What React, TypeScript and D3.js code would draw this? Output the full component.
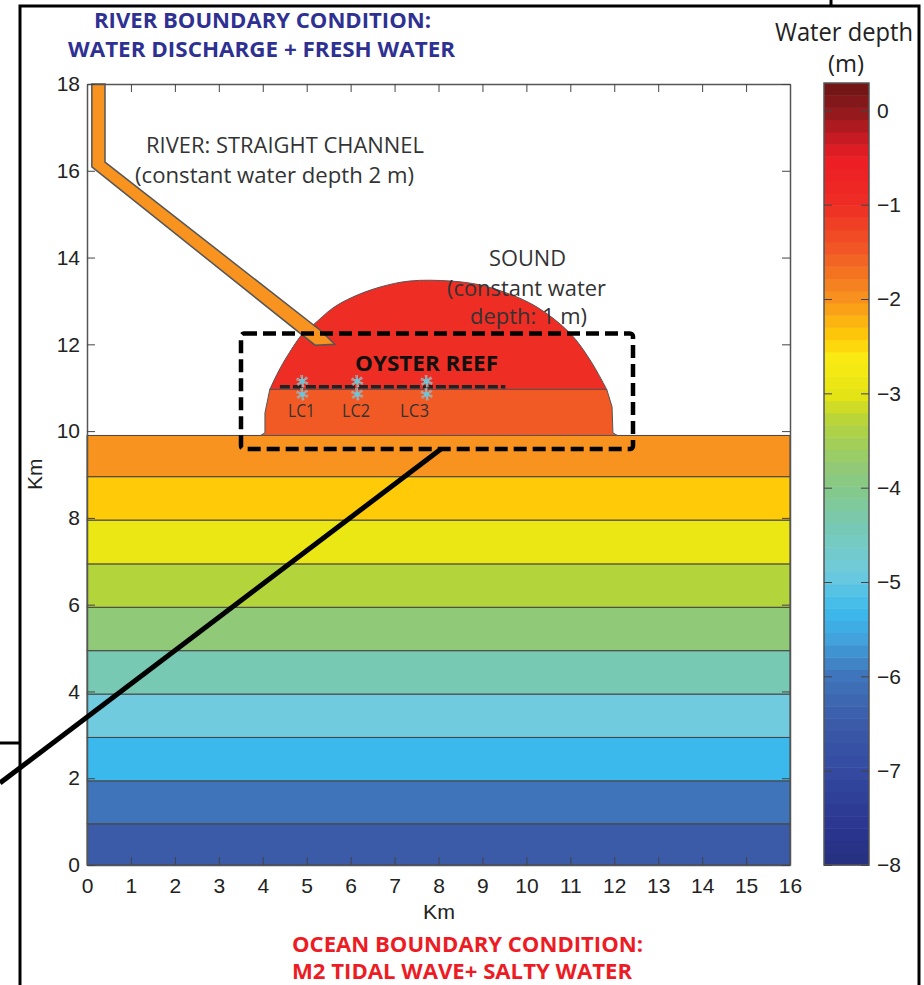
import React, { useEffect, useRef } from 'react';
import * as d3 from 'd3';

const xTicks = d3.range(0, 17);
const yTicks = [0, 2, 4, 6, 8, 10, 12, 14, 16, 18];
const depthTicks = [0, -1, -2, -3, -4, -5, -6, -7, -8];

// contour edges (km) and the depth (m) of each ocean band, bottom to top
const bandEdges = [0, 0.95, 1.94, 2.94, 3.94, 4.94, 5.94, 6.94, 7.95, 8.95, 9.9];
const bandDepths = [-6.5, -6, -5.3, -4.9, -4.4, -3.8, -3.3, -2.9, -2.4, -2];

// colormap stops
const cmapDepths = [0.29, 0, -0.5, -1, -1.5, -2, -2.4, -2.65, -3, -3.3, -3.8, -4, -4.4, -4.9, -5.3, -5.6, -6, -6.5, -7, -7.6, -8];
const cmapColors = ['#6d1414', '#8e1a1e', '#ed1c24', '#ee2d24', '#f15a24', '#f7931e', '#ffcb08', '#f9ed14', '#e6e414', '#b4d43c', '#90c978', '#85c988', '#78c9b4', '#6fcbdd', '#3cb9ec', '#41a2dc', '#3f74bb', '#3b5aa8', '#344aa0', '#2a3590', '#26307f'];

// sound outline in km
const soundLower = [[3.95, 9.9], [4.05, 9.96], [4.05, 10.42], [4.16, 10.96], [11.83, 10.96], [11.95, 10.56], [11.97, 9.96], [12.07, 9.9]];
const soundUpper = [[4.16, 10.96], [4.35, 11.36], [4.57, 11.75], [4.92, 12.26], [5.14, 12.44], [5.6, 12.84], [6.05, 13.09], [6.67, 13.32], [7.35, 13.46], [8.26, 13.46], [8.94, 13.37], [9.56, 13.18], [10.24, 12.86], [10.99, 12.26], [11.45, 11.64], [11.83, 10.96]];
const river = [[0.11, 18], [0.41, 18], [0.41, 16.2], [5.3, 12.33], [5.64, 12.0], [5.19, 11.98], [0.11, 16.09]];
const reefLine = [[4.39, 11.02], [9.52, 11.02]];
const stations = [[4.9, 11.15], [4.9, 10.85], [6.15, 11.15], [6.15, 10.85], [7.73, 11.15], [7.73, 10.85]];

const soundDepthLower = -1.5;
const soundDepthUpper = -1;
const riverDepth = -2;

const App = () => {
  const svgRef = useRef(null);

  useEffect(() => {
    const svg = d3.select(svgRef.current);
    svg.selectAll('*').remove();

    const x = d3.scaleLinear().domain([0, 16]).range([87, 790]);
    const y = d3.scaleLinear().domain([0, 18]).range([865, 84]);
    const cbY = d3.scaleLinear().domain([-8, 0.29]).range([865, 83]);
    const color = d3.scaleLinear().domain(cmapDepths).range(cmapColors).interpolate(d3.interpolateRgb);
    const line = d3.line().x((d) => x(d[0])).y((d) => y(d[1]));
    const arcLine = d3.line().x((d) => x(d[0])).y((d) => y(d[1])).curve(d3.curveCatmullRom);
    const sans = 'Liberation Sans, Arial, sans-serif';
    const humanist = '"Open Sans", "Noto Sans", sans-serif';

    // ocean bands
    svg.selectAll('.band')
      .data(bandDepths)
      .enter()
      .append('rect')
      .attr('x', x(0))
      .attr('width', x(16) - x(0))
      .attr('y', (d, i) => y(bandEdges[i + 1]))
      .attr('height', (d, i) => y(bandEdges[i]) - y(bandEdges[i + 1]))
      .attr('fill', (d) => color(d))
      .attr('stroke', '#444')
      .attr('stroke-width', 1);

    const shape = (d, depth, sw = 1) => svg.append('path')
      .attr('d', d + 'Z')
      .attr('fill', color(depth))
      .attr('stroke', '#555')
      .attr('stroke-width', sw);
    shape(line(soundLower), soundDepthLower);
    shape(arcLine(soundUpper), soundDepthUpper);
    shape(line(river), riverDepth, 1.5);

    // axes box + inward ticks
    const styleAxis = (g) => {
      g.selectAll('.domain').attr('stroke', '#555').attr('stroke-width', 1.5);
      g.selectAll('.tick line').attr('stroke', '#444');
      g.selectAll('text').attr('font-family', sans).attr('font-size', 21).attr('fill', '#222');
    };
    const gridAxis = (axis, tx, ty) => svg.append('g')
      .attr('transform', `translate(${tx},${ty})`)
      .call(axis)
      .call(styleAxis);
    gridAxis(d3.axisBottom(x).tickValues(xTicks).tickSizeInner(-8).tickSizeOuter(0).tickPadding(13), 0, 865);
    gridAxis(d3.axisTop(x).tickValues(xTicks).tickSizeInner(-8).tickSizeOuter(0).tickFormat(() => ''), 0, 84);
    gridAxis(d3.axisLeft(y).tickValues(yTicks).tickSizeInner(-8).tickSizeOuter(0).tickPadding(7), 87, 0);
    gridAxis(d3.axisRight(y).tickValues(yTicks).tickSizeInner(-8).tickSizeOuter(0).tickFormat(() => ''), 790, 0);

    // colorbar
    const levels = d3.range(64);
    const step = (0.29 + 8) / 64;
    svg.append('g').selectAll('rect')
      .data(levels)
      .enter()
      .append('rect')
      .attr('x', 824)
      .attr('width', 45)
      .attr('y', (d) => cbY(-8 + (d + 1) * step))
      .attr('height', (d) => cbY(-8 + d * step) - cbY(-8 + (d + 1) * step) + 0.5)
      .attr('fill', (d) => color(-8 + (d + 0.5) * step));
    svg.append('rect')
      .attr('x', 824).attr('y', 83).attr('width', 45).attr('height', 782)
      .attr('fill', 'none').attr('stroke', '#555').attr('stroke-width', 1.5);
    const cbAxis = d3.axisRight(cbY).tickValues(depthTicks).tickSizeInner(-8).tickSizeOuter(0).tickPadding(8)
      .tickFormat((d) => (d < 0 ? '\u2212' + Math.abs(d) : String(d)));
    const cb = svg.append('g').attr('transform', 'translate(869,0)').call(cbAxis).call(styleAxis);
    cb.select('.domain').remove();
    svg.append('g').attr('transform', 'translate(824,0)')
      .call(d3.axisRight(cbY).tickValues(depthTicks).tickSize(8).tickFormat(() => ''))
      .call(styleAxis)
      .select('.domain').remove();

    // reef line and stations
    svg.append('path')
      .attr('d', line(reefLine))
      .attr('stroke', '#222').attr('stroke-width', 3.5).attr('stroke-dasharray', '10 3').attr('fill', 'none');
    const star = d3.symbol().type(d3.symbolAsterisk).size(110);
    const starG = svg.selectAll('.station').data(stations).enter().append('g')
      .attr('transform', (d) => `translate(${x(d[0])},${y(d[1])})`);
    starG.append('path').attr('d', star()).attr('stroke', '#a4a9ab').attr('stroke-width', 1.5).attr('fill', 'none');
    starG.append('path').attr('d', star()).attr('transform', 'rotate(45)').attr('stroke', '#a4a9ab').attr('stroke-width', 1.2).attr('fill', 'none');
    starG.append('circle').attr('r', 2.6).attr('fill', '#6cc4d6');

    // zoom box and its leader
    svg.append('rect')
      .attr('x', 241).attr('y', 333.5).attr('width', 392).attr('height', 115.5).attr('rx', 3)
      .attr('fill', 'none').attr('stroke', '#000').attr('stroke-width', 4.5).attr('stroke-dasharray', '13 6');
    svg.append('line')
      .attr('x1', 0).attr('y1', 783).attr('x2', 441).attr('y2', 449)
      .attr('stroke', '#000').attr('stroke-width', 5);

    // outer figure frame
    svg.append('path')
      .attr('d', 'M20,985V6H919V985M0,743H20M831,0V6')
      .attr('fill', 'none').attr('stroke', '#000').attr('stroke-width', 3);

    const label = (txt, x1, x2, base, size, fill, weight = 400, family = humanist) => svg.append('text')
      .attr('x', x1).attr('y', base)
      .attr('textLength', x2 - x1).attr('lengthAdjust', 'spacingAndGlyphs')
      .attr('font-family', family).attr('font-size', size).attr('font-weight', weight).attr('fill', fill)
      .text(txt);

    label('RIVER BOUNDARY CONDITION:', 94, 431, 28, 21, '#2e3192', 700);
    label('WATER DISCHARGE + FRESH WATER', 68, 455, 57, 21, '#2e3192', 700);
    label('OCEAN BOUNDARY CONDITION:', 292, 643, 951.5, 21, '#ed1c24', 700);
    label('M2 TIDAL WAVE+ SALTY WATER', 292, 632, 979, 20.5, '#ed1c24', 700);
    label('RIVER: STRAIGHT CHANNEL', 146, 424, 153, 22, '#333');
    label('(constant water depth 2 m)', 135, 414, 183, 22, '#333');
    label('SOUND', 489, 566, 266, 22, '#333');
    label('(constant water', 447, 606, 296, 22, '#333');
    label('depth: 1 m)', 470, 587, 324, 22, '#333');
    label('OYSTER REEF', 355, 498, 371, 22, '#111', 700);
    label('LC1', 288, 315, 416.5, 18, '#333');
    label('LC2', 342, 370, 416.5, 18, '#333');
    label('LC3', 400, 429, 416.5, 18, '#333');
    label('Water depth', 775, 913, 41, 25, '#222');
    label('(m)', 828, 864, 72, 24, '#222');
    label('Km', 423, 455, 919, 21, '#222', 400, sans);

    svg.append('text')
      .attr('transform', 'translate(41.5,490) rotate(-90)')
      .attr('font-family', sans).attr('font-size', 21).attr('fill', '#222')
      .text('Km');
  }, []);

  return <svg ref={svgRef} width={924} height={985} style={{ position: 'absolute', left: 0, top: 0, background: '#fff' }} />;
};

export default App;
